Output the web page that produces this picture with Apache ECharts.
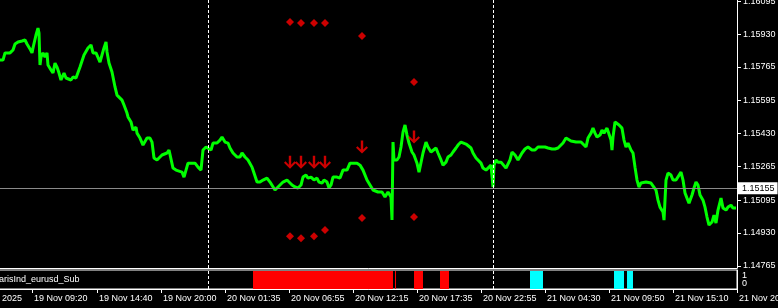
<!DOCTYPE html>
<html><head><meta charset="utf-8">
<script src="https://cdn.jsdelivr.net/npm/echarts@6/dist/echarts.min.js"></script>
<style>html,body{margin:0;padding:0;background:#000;overflow:hidden}#c{width:778px;height:308px}</style>
</head><body><div id="c"></div>
<script>
// bar index (5-minute bars, one per pixel column) and close price
const barIndex = [
  0,3,5,7,10,13,15,18,22,25,
  27,30,32,33,36,38,39,40,41,43,
  45,47,48,51,53,55,57,59,61,62,
  64,66,68,71,73,76,78,80,82,84,
  86,88,91,93,96,98,100,102,104,106,
  107,109,112,113,115,117,119,122,124,127,
  128,131,133,136,137,140,143,145,147,150,
  152,154,157,159,162,164,167,169,171,173,
  176,178,182,184,186,188,192,195,198,201,
  203,206,208,211,213,217,220,222,225,228,
  230,233,237,240,242,245,248,252,254,257,
  260,263,267,270,272,275,278,280,283,287,
  289,292,295,298,301,303,306,308,311,314,
  317,319,322,324,327,329,331,333,337,340,
  343,347,350,353,357,360,363,367,370,373,
  375,378,382,385,388,390,391,392,393,394,
  397,399,401,403,405,407,409,412,414,417,
  419,421,423,426,428,431,433,436,438,441,
  443,446,448,451,453,456,458,461,463,466,
  468,471,473,476,478,481,483,486,488,491,
  492,493,494,496,498,501,503,506,508,510,
  512,515,518,520,522,525,528,530,532,535,
  538,540,542,545,548,550,552,555,558,560,
  563,566,568,571,573,576,578,581,583,586,
  588,591,593,595,597,600,602,604,607,609,
  611,612,613,615,617,619,622,624,626,628,
  631,633,635,637,639,641,643,646,648,651,
  653,656,658,660,663,664,666,668,671,673,
  676,678,681,683,685,687,689,692,694,696,
  698,700,703,705,707,709,712,714,716,718,
  721,723,726,728,731,733,736];
const closePrice = [
  1.15799,1.15799,1.15835,1.15840,1.15835,1.15850,1.15880,1.15890,1.15895,1.15900,
  1.15880,1.15855,1.15835,1.15860,1.15925,1.15960,1.15935,1.15774,1.15814,1.15835,
  1.15814,1.15835,1.15774,1.15749,1.15734,1.15784,1.15764,1.15734,1.15699,1.15709,
  1.15734,1.15709,1.15699,1.15699,1.15714,1.15709,1.15709,1.15764,1.15774,1.15825,
  1.15835,1.15860,1.15875,1.15835,1.15835,1.15825,1.15789,1.15825,1.15860,1.15890,
  1.15840,1.15784,1.15739,1.15734,1.15664,1.15623,1.15623,1.15598,1.15573,1.15533,
  1.15513,1.15488,1.15447,1.15462,1.15432,1.15407,1.15372,1.15382,1.15407,1.15407,
  1.15387,1.15307,1.15297,1.15307,1.15322,1.15332,1.15332,1.15347,1.15337,1.15256,
  1.15246,1.15256,1.15236,1.15211,1.15246,1.15281,1.15281,1.15281,1.15261,1.15246,
  1.15347,1.15362,1.15372,1.15347,1.15382,1.15382,1.15397,1.15412,1.15387,1.15382,
  1.15357,1.15332,1.15312,1.15312,1.15332,1.15312,1.15297,1.15261,1.15231,1.15186,
  1.15186,1.15196,1.15206,1.15186,1.15196,1.15146,1.15161,1.15171,1.15186,1.15196,
  1.15206,1.15171,1.15161,1.15156,1.15171,1.15211,1.15221,1.15206,1.15211,1.15196,
  1.15206,1.15186,1.15181,1.15196,1.15186,1.15156,1.15171,1.15211,1.15211,1.15206,
  1.15246,1.15246,1.15281,1.15281,1.15281,1.15271,1.15246,1.15196,1.15171,1.15146,
  1.15146,1.15136,1.15136,1.15111,1.15136,1.15136,1.15111,1.14995,1.15387,1.15297,
  1.15297,1.15312,1.15362,1.15437,1.15473,1.15422,1.15382,1.15337,1.15322,1.15281,
  1.15236,1.15246,1.15332,1.15387,1.15362,1.15337,1.15337,1.15357,1.15332,1.15297,
  1.15271,1.15286,1.15312,1.15322,1.15337,1.15357,1.15372,1.15387,1.15387,1.15377,
  1.15382,1.15357,1.15332,1.15307,1.15297,1.15281,1.15256,1.15246,1.15256,1.15271,
  1.15261,1.15161,1.15271,1.15297,1.15286,1.15286,1.15281,1.15256,1.15256,1.15297,
  1.15337,1.15322,1.15297,1.15307,1.15332,1.15352,1.15362,1.15357,1.15347,1.15347,
  1.15362,1.15372,1.15362,1.15362,1.15357,1.15347,1.15352,1.15352,1.15357,1.15367,
  1.15382,1.15407,1.15407,1.15392,1.15387,1.15387,1.15397,1.15387,1.15382,1.15362,
  1.15407,1.15432,1.15457,1.15432,1.15412,1.15422,1.15447,1.15432,1.15457,1.15457,
  1.15397,1.15347,1.15412,1.15488,1.15498,1.15473,1.15457,1.15397,1.15362,1.15382,
  1.15347,1.15332,1.15261,1.15196,1.15161,1.15181,1.15186,1.15186,1.15181,1.15181,
  1.15186,1.15146,1.15095,1.15060,1.15035,1.14995,1.15196,1.15231,1.15221,1.15196,
  1.15196,1.15206,1.15236,1.15196,1.15131,1.15105,1.15080,1.15121,1.15156,1.15186,
  1.15171,1.15121,1.15095,1.15060,1.15010,1.14970,1.14985,1.15020,1.14980,1.15045,
  1.15105,1.15055,1.15045,1.15060,1.15070,1.15055,1.15055];

const priceTicks = [1.16095,1.15930,1.15765,1.15595,1.15430,1.15265,1.15095,1.14930,1.14765];
const bidPrice = 1.15155;
const timeTickBars = [-31,32,97,161,225,289,353,417,481,545,609,673,737];
const timeTickLabels = ['19 Nov 2025','19 Nov 09:20','19 Nov 14:40','19 Nov 20:00','20 Nov 01:35','20 Nov 06:55','20 Nov 12:15','20 Nov 17:35','20 Nov 22:55','21 Nov 04:30','21 Nov 09:50','21 Nov 15:10','21 Nov 20:30'];
const daySeparatorBars = [208,493];

const signalBars = [290,301,314,325,362,414];
const arrowPrice = [1.15286,1.15286,1.15286,1.15286,1.15362,1.15412];
const upperDotPrice = [1.15990,1.15985,1.15985,1.15985,1.15920,1.15689];
const lowerDotPrice = [1.14914,1.14904,1.14914,1.14945,1.15005,1.15010];

const subName = 'arisInd_eurusd_Sub';
const subTickLabels = ['1','0'];   // sub-window scale labels, top to bottom
const subRedStart = [253,395,414,440];
const subRedEnd   = [392,395,422,448];
const subCyanStart = [530,614,627];
const subCyanEnd   = [542,623,632];

const FONT = 'Liberation Sans, Arial, sans-serif';
const chart = echarts.init(document.getElementById('c'), null, {renderer:'canvas'});

function segRender(params, api){
  const s = api.value(0), e = api.value(1);
  const p0 = api.coord([s, 0]), p1 = api.coord([e + 1, 0]);
  const cs = params.coordSys;
  return {type:'rect', shape:{x:p0[0], y:cs.y + 1, width:p1[0]-p0[0], height:cs.height - 1}, style:{fill: api.visual('color')}};
}

chart.setOption({
  backgroundColor:'#000',
  animation:false,
  textStyle:{fontFamily:FONT},
  grid:[
    {left:-40, right:41, top:0, height:268, outerBoundsMode:'none', containLabel:false},
    {left:-40, right:41, top:270, height:19, outerBoundsMode:'none', containLabel:false, show:true, borderColor:'#fff', borderWidth:1, backgroundColor:'#000'}
  ],
  xAxis:[
    {gridIndex:0, type:'value', min:-40, max:737, axisLine:{show:true, onZero:false, lineStyle:{color:'#fff'}}, axisTick:{show:false}, axisLabel:{show:false}, splitLine:{show:false}},
    {gridIndex:1, type:'value', min:-40, max:737, position:'bottom',
      axisLine:{show:true, onZero:false, lineStyle:{color:'#fff'}},
      axisTick:{show:true, length:4, lineStyle:{color:'#fff'}, customValues:timeTickBars},
      axisLabel:{show:true, customValues:timeTickBars, align:'left', color:'#fff', fontSize:9, fontFamily:FONT, margin:5, padding:[0,0,0,2], hideOverlap:false,
        formatter:v => timeTickLabels[timeTickBars.indexOf(v)]},
      splitLine:{show:false}}
  ],
  yAxis:[
    {gridIndex:0, type:'value', position:'right', min:1.14754, max:1.16101,
      axisLine:{show:true, onZero:false, lineStyle:{color:'#fff'}},
      axisTick:{show:true, length:4, lineStyle:{color:'#fff'}, customValues:priceTicks},
      axisLabel:{show:true, customValues:priceTicks, color:'#fff', fontSize:9, fontFamily:FONT, margin:6, hideOverlap:false, formatter:v => v.toFixed(5)},
      splitLine:{show:false}},
    {gridIndex:1, type:'value', position:'right', min:-0.625, max:1.75,
      axisLine:{show:true, onZero:false, lineStyle:{color:'#fff'}},
      axisTick:{show:false},
      axisLabel:{show:true, customValues:[0.5], color:'#fff', fontSize:9, lineHeight:8, fontFamily:FONT, margin:5, formatter:() => subTickLabels.join('\n')},
      splitLine:{show:false}}
  ],
  graphic:[
    {type:'text', left:-1, top:275, z:100, style:{text:subName, fill:'#fff', font:'9px ' + FONT}}
  ],
  series:[
    {type:'line', xAxisIndex:0, yAxisIndex:0, data:barIndex.map((b,i)=>[b, closePrice[i]]),
      showSymbol:false, symbol:'none', lineStyle:{color:'#00ff00', width:3}, z:3,
      markLine:{silent:true, symbol:['none','none'], animation:false, precision:5,
        data:[
          {yAxis:bidPrice, lineStyle:{color:'#8a8a8a', type:'solid', width:1},
            label:{show:true, position:'end', distance:1, formatter:bidPrice.toFixed(5), backgroundColor:'#fff', color:'#000', fontSize:9, fontFamily:FONT, padding:[2,3,1,4]}},
          ...daySeparatorBars.map(b => ({xAxis:b, lineStyle:{color:'#fff', type:[3,2], width:1}, label:{show:false}}))
        ]}},
    {type:'scatter', xAxisIndex:0, yAxisIndex:0, data:signalBars.map((b,i)=>[b, arrowPrice[i]]),
      symbol:'path://M4.8,0L7.2,0L7.2,9L10.5,5.7L12,7.2L6,13L0,7.2L1.5,5.7L4.8,9Z', symbolSize:[12,13], itemStyle:{color:'#ff0000'}, z:5},
    {type:'scatter', xAxisIndex:0, yAxisIndex:0, data:signalBars.map((b,i)=>[b, upperDotPrice[i]]),
      symbol:'diamond', symbolSize:[8,8], itemStyle:{color:'#ff0000'}, z:5},
    {type:'scatter', xAxisIndex:0, yAxisIndex:0, data:signalBars.map((b,i)=>[b, lowerDotPrice[i]]),
      symbol:'diamond', symbolSize:[8,8], itemStyle:{color:'#ff0000'}, z:5},
    {type:'custom', xAxisIndex:1, yAxisIndex:1, renderItem:segRender, encode:{x:[0,1]},
      itemStyle:{color:'#ff0000'}, data:subRedStart.map((s,i)=>[s, subRedEnd[i]]), z:2},
    {type:'custom', xAxisIndex:1, yAxisIndex:1, renderItem:segRender, encode:{x:[0,1]},
      itemStyle:{color:'#00ffff'}, data:subCyanStart.map((s,i)=>[s, subCyanEnd[i]]), z:2,
      markLine:{silent:true, symbol:['none','none'], animation:false,
        data: daySeparatorBars.map(b => ({xAxis:b, lineStyle:{color:'#fff', type:[3,2], width:1}, label:{show:false}}))}}
  ]
});
</script>
</body></html>
